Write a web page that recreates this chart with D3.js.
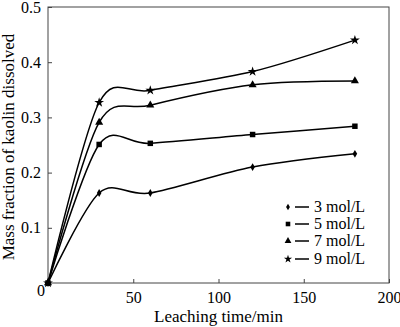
<!DOCTYPE html>
<html>
<head>
<meta charset="utf-8">
<script src="https://cdn.jsdelivr.net/npm/d3@7/dist/d3.min.js"></script>
<style>
  body { margin: 0; background: #fff; }
  svg text { font-family: "Liberation Serif", "Times New Roman", Tinos, "DejaVu Serif", serif !important; fill: #000; }
</style>
</head>
<body>
<svg id="chart" width="400" height="327"></svg>
<script>
const times = [0, 30, 60, 120, 180];
const seriesNames = ["3 mol/L", "5 mol/L", "7 mol/L", "9 mol/L"];
const s3 = [0, 0.163, 0.163, 0.210, 0.234];
const s5 = [0, 0.251, 0.253, 0.269, 0.284];
const s7 = [0, 0.291, 0.322, 0.359, 0.366];
const s9 = [0, 0.327, 0.349, 0.383, 0.440];
const xTicks = [50, 100, 150, 200];
const yTicks = [0.1, 0.2, 0.3, 0.4, 0.5];
const xTitle = "Leaching time/min";
const yTitle = "Mass fraction of kaolin dissolved";

const series = [s3, s5, s7, s9];
const symbols = [d3.symbolDiamond, d3.symbolSquare, d3.symbolTriangle, d3.symbolStar];
const symSizes = [18, 30, 28, 30];
const FONT = "'Liberation Serif', 'Times New Roman', Tinos, 'DejaVu Serif', serif";

const svg = d3.select("#chart");
const L = 48, R = 389, T = 7, B = 283;
const x = d3.scaleLinear().domain([0, 200]).range([L, R]);
const y = d3.scaleLinear().domain([0, 0.5]).range([B, T]);
const frame = "#444";

svg.append("rect").attr("x", L).attr("y", T).attr("width", R - L).attr("height", B - T)
  .attr("fill", "none").attr("stroke", frame).attr("stroke-width", 1);

const xAxis = d3.axisBottom(x).tickValues(xTicks).tickSizeInner(-4).tickSizeOuter(0).tickPadding(9)
  .tickFormat(d3.format("d"));
const gx = svg.append("g").attr("transform", `translate(0,${B})`).call(xAxis)
  .attr("font-family", FONT).attr("font-size", 16);
gx.select(".domain").remove();
gx.selectAll("line").attr("stroke", frame);
gx.selectAll("text").attr("fill", "#000");

const yAxis = d3.axisLeft(y).tickValues(yTicks).tickSizeInner(-4).tickSizeOuter(0).tickPadding(7)
  .tickFormat(d3.format(".1f"));
const gy = svg.append("g").attr("transform", `translate(${L},0)`).call(yAxis)
  .attr("font-family", FONT).attr("font-size", 16);
gy.select(".domain").remove();
gy.selectAll("line").attr("stroke", frame);
gy.selectAll("text").attr("fill", "#000");

svg.append("text").attr("x", x(0) - 7).attr("y", y(0) + 13).attr("text-anchor", "middle")
  .attr("font-family", FONT).attr("font-size", 16).text("0");

svg.append("text").attr("x", (L + R) / 2).attr("y", 322).attr("text-anchor", "middle")
  .attr("font-family", FONT).attr("font-size", 17).text(xTitle);
svg.append("text").attr("transform", `translate(14,${(T + B) / 2 + 2}) rotate(-90)`)
  .attr("text-anchor", "middle").attr("font-family", FONT).attr("font-size", 17).text(yTitle);

const line = d3.line().x((d, i) => x(times[i])).y(d => y(d)).curve(d3.curveCardinal.tension(0.1));
series.forEach((s) => {
  svg.append("path").attr("d", line(s)).attr("fill", "none").attr("stroke", "#000").attr("stroke-width", 1.5);
});
series.forEach((s, k) => {
  svg.selectAll(null).data(s).enter().append("path")
    .attr("d", d3.symbol().type(symbols[k]).size(symSizes[k]))
    .attr("transform", (d, i) => `translate(${x(times[i])},${y(d)})`)
    .attr("fill", "#000");
});

const legY = [207, 224, 241, 259];
seriesNames.forEach((name, k) => {
  const g = svg.append("g").attr("transform", `translate(0,${legY[k]})`);
  g.append("path").attr("d", d3.symbol().type(symbols[k]).size(symSizes[k] * 0.7))
    .attr("transform", "translate(288,0)").attr("fill", "#000");
  g.append("line").attr("x1", 295).attr("x2", 309).attr("y1", 0).attr("y2", 0)
    .attr("stroke", "#000").attr("stroke-width", 1.5);
  g.append("text").attr("x", 314).attr("y", 0).attr("dy", "0.33em")
    .attr("font-family", FONT).attr("font-size", 16).text(name);
});
</script>
</body>
</html>
